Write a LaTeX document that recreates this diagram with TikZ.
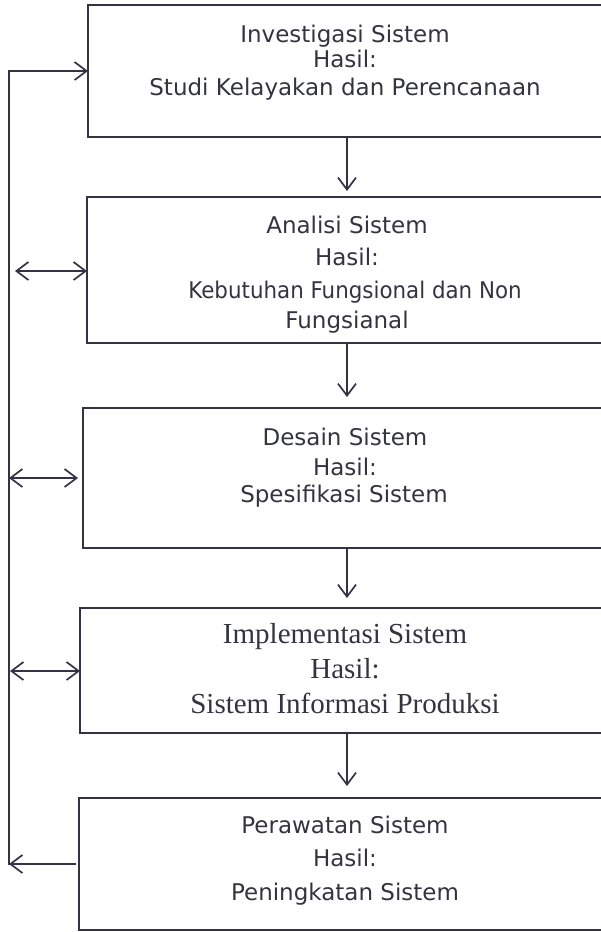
\documentclass[tikz,border=0pt]{standalone}
\usepackage{fontspec}
\setmainfont{DejaVu Sans}
\newfontfamily\serifface{Liberation Serif}
\usetikzlibrary{arrows.meta}
\definecolor{ink}{RGB}{52,50,68}
\definecolor{txt}{RGB}{52,52,64}
\begin{document}
\begin{tikzpicture}[x=1pt,y=-1pt,
  box/.style={draw=ink,line width=1.9pt,rectangle,inner sep=0pt,outer sep=0pt},
  conn/.style={draw=ink,line width=1.7pt},
  arr/.style={conn,-{Straight Barb[length=12pt,width=18pt,line width=1.7pt]}},
  darr/.style={conn,{Straight Barb[length=12pt,width=18pt,line width=1.7pt]}-{Straight Barb[length=12pt,width=18pt,line width=1.7pt]}},
  sans/.style={text=txt,inner sep=0pt,anchor=base,font=\fontsize{23}{27}\selectfont},
  serif/.style={text=txt,inner sep=0pt,anchor=base,font=\serifface\fontsize{29}{34}\selectfont}]
\useasboundingbox (0,0) rectangle (601,932);
\clip (0,0) rectangle (601,932);
% boxes
\node[box,minimum width=527pt,minimum height=132pt] (b1) at (351.5,71) {};
\node[box,minimum width=528pt,minimum height=146pt] (b2) at (351,270) {};
\node[box,minimum width=532pt,minimum height=140pt] (b3) at (349,478) {};
\node[box,minimum width=535pt,minimum height=125pt] (b4) at (347.5,670.5) {};
\node[box,minimum width=536pt,minimum height=132pt] (b5) at (347,864) {};
% texts
\node[sans] (t1a) at (345,42) {Investigasi Sistem};
\node[sans] (t1b) at (345,67) {Hasil:};
\node[sans] (t1c) at (345,95) {Studi Kelayakan dan Perencanaan};
\node[sans] (t2a) at (347,233) {Analisi Sistem};
\node[sans] (t2b) at (347,265) {Hasil:};
\node[sans] (t2c) at (355,298) {\scalebox{0.93}[1]{Kebutuhan Fungsional dan Non}};
\node[sans] (t2d) at (347,328) {Fungsianal};
\node[sans] (t3a) at (345,445) {Desain Sistem};
\node[sans] (t3b) at (345,475) {Hasil:};
\node[sans] (t3c) at (344,502) {Spesifikasi Sistem};
\node[serif] (t4a) at (345,643) {Implementasi Sistem};
\node[serif] (t4b) at (345,678) {Hasil:};
\node[serif] (t4c) at (345,713) {Sistem Informasi Produksi};
\node[sans] (t5a) at (345,833) {Perawatan Sistem};
\node[sans] (t5b) at (345,866) {Hasil:};
\node[sans] (t5c) at (345,900) {Peningkatan Sistem};
% down connectors
\coordinate (mid) at (347,0);
\draw[arr,shorten >=6pt] (b1.south -| mid) -- (b2.north -| mid);
\draw[arr,shorten >=11pt] (b2.south -| mid) -- (b3.north -| mid);
\draw[arr,shorten >=10pt] (b3.south -| mid) -- (b4.north -| mid);
\draw[arr,shorten >=12pt] (b4.south -| mid) -- (b5.north -| mid);
% feedback loop
\coordinate (L1) at (9,71);
\coordinate (L2) at (9,271);
\coordinate (L3) at (9,478);
\coordinate (L4) at (9,671);
\coordinate (L5) at (9,864);
\draw[conn,line cap=rect] (L1) -- (L5);
\draw[arr] (L1) -- (b1.west);
\draw[darr,shorten <=6pt] (L2) -- (L2 -| b2.west);
\draw[darr,shorten >=5pt] (L3) -- (L3 -| b3.west);
\draw[darr,shorten <=1pt] (L4) -- (L4 -| b4.west);
\draw[arr,shorten <=3pt] (b5.west) -- (L5);
\end{tikzpicture}
\end{document}
